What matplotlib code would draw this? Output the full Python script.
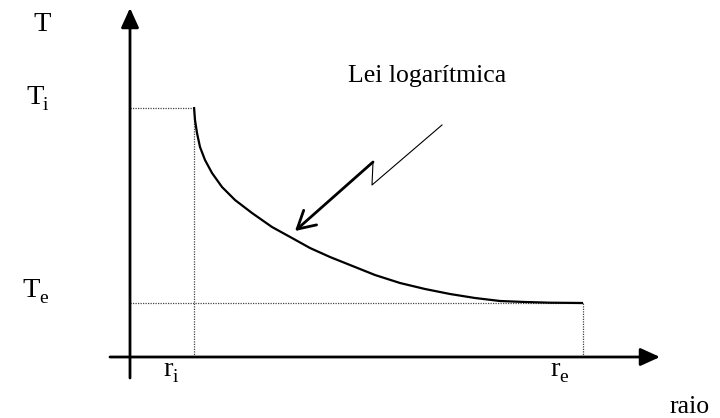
import numpy as np
import matplotlib
matplotlib.use('Agg')
import matplotlib.pyplot as plt

plt.rcParams['font.family'] = ['Liberation Serif', 'DejaVu Serif']

# perfil de temperatura ao longo do raio (unidades arbitrarias)
raio = [64, 65, 67, 70, 75, 82, 92, 105, 122, 142, 162, 180, 200, 220, 245,
        270, 295, 320, 345, 370, 395, 420, 453]
temp = [250, 237, 224, 210, 197, 184, 170, 157, 144, 130, 119, 109, 100, 92, 82,
        74, 68, 63, 59, 56, 55, 54.3, 54]

r_i, r_e = 64, 453
T_i, T_e = 249, 54

# seta "relampago" que aponta para a curva
seta_fina_r = [312, 242, 243]
seta_fina_T = [232, 172, 195]
seta_ponta = (165, 126)

# rotulos: (texto, subscrito, r, T, avanco da letra em pt)
rotulos = [('T', '', -97, 326, 0),
           ('T', 'i', -104, 253, 12.2),
           ('T', 'e', -108, 60, 12.2),
           ('r', 'i', 33, -19, 6.6),
           ('r', 'e', 420, -19, 6.6)]

fig = plt.figure(figsize=(7.2, 4.18), dpi=100)
ax = fig.add_axes([0, 0, 1, 1])
ax.set_xlim(-130, 590)
ax.set_ylim(-61, 357)
ax.axis('off')

############### eixos com setas ###############
eixo = dict(arrowstyle='-|>,head_length=1.1,head_width=0.5', mutation_scale=10.8,
            lw=2, color='k', shrinkA=0, shrinkB=0)
ax.annotate('', xy=(0, 349), xytext=(0, -21), arrowprops=eixo)
ax.annotate('', xy=(530, 0), xytext=(-20, 0), arrowprops=eixo)

############### linhas de chamada ###############
ponto = dict(color='#444444', lw=0.9, linestyle=(0, (1, 1)))
ax.plot([0, r_i], [T_i, T_i], **ponto)
ax.plot([r_i, r_i], [0, T_i], **ponto)
ax.plot([0, r_e], [T_e, T_e], **ponto)
ax.plot([r_e, r_e], [0, T_e], **ponto)

############### curva ###############
ax.plot(raio, temp, color='k', lw=1.6, solid_capstyle='butt', solid_joinstyle='round')

############### seta ###############
ax.plot(seta_fina_r, seta_fina_T, color='k', lw=0.8)
ax.annotate('', xy=seta_ponta, xytext=(seta_fina_r[-1], seta_fina_T[-1]),
            arrowprops=dict(arrowstyle='->,head_length=1.25,head_width=0.7',
                            mutation_scale=10, lw=2, color='k', shrinkA=0, shrinkB=0))

############### textos ###############
for letra, sub, r, T, avanco in rotulos:
    ax.text(r, T, letra, fontsize=20.5, ha='left', va='baseline')
    if sub:
        ax.annotate(sub, xy=(r, T), xytext=(avanco, -4.5), textcoords='offset points',
                    fontsize=14, ha='left', va='baseline')

ax.text(539, -56, 'raio', fontsize=18.5, ha='left', va='baseline')
ax.text(218, 275, 'Lei logarítmica', fontsize=18.5, ha='left', va='baseline')

plt.savefig('out.png', dpi=100)
